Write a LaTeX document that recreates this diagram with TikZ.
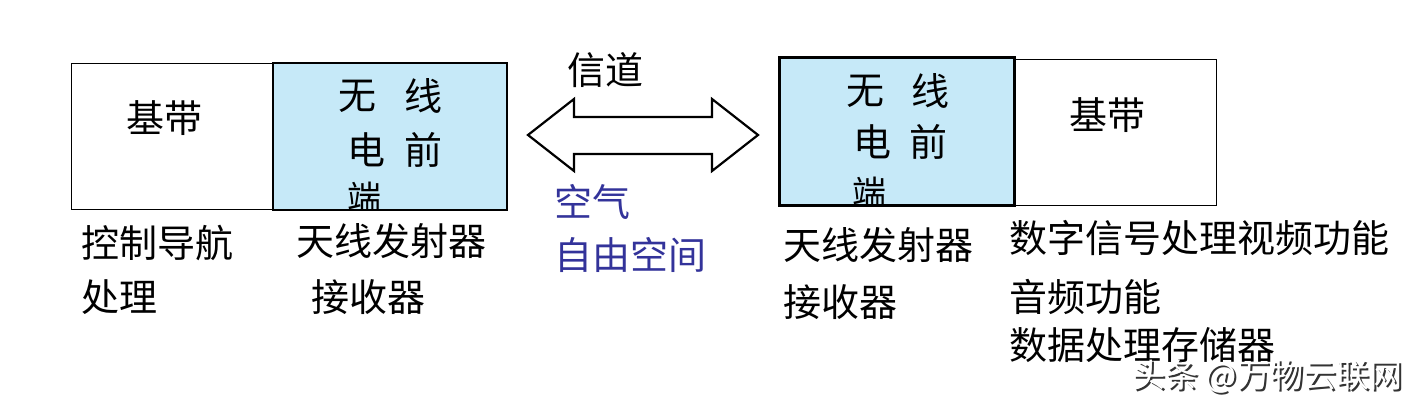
\documentclass[tikz,border=0pt]{standalone}
\usepackage{fontspec}
\setmainfont{Noto Sans CJK SC}
\definecolor{rfblue}{HTML}{C6E9F8}
\definecolor{airblue}{HTML}{33339A}
\tikzset{
  box/.style={draw=black, line width=0.6pt, inner sep=0pt, anchor=north west},
  rfbox/.style={box, fill=rfblue},
  txt/.style={inner sep=0pt, font=\fontsize{19pt}{22pt}\selectfont},
  ltxt/.style={txt, anchor=west},
  airtxt/.style={ltxt, text=airblue},
  small/.style={inner sep=0pt, font=\fontsize{17pt}{20pt}\selectfont},
  wmtxt/.style={inner sep=0pt, anchor=west, font=\fontsize{16.5pt}{20pt}\selectfont}
}
\begin{document}
\begin{tikzpicture}[x=0.5pt,y=-0.5pt]
\useasboundingbox (0,0) rectangle (1416,405);
% left side boxes
\node[box, minimum width=101pt, minimum height=73pt] (lbase) at (71,63) {};
\node[rfbox, minimum width=116.5pt, minimum height=73pt] (lrf) at (273,63) {};
\node[txt] (lbaset) at (164,118) {基带};
\node[txt] (lw1) at (357,96) {无};
\node[txt] (lw2) at (423,96) {线};
\node[txt] (lw3) at (366,150) {电};
\node[txt] (lw4) at (423,150) {前};
\begin{scope}
\clip (lrf.north west) rectangle (lrf.south east);
\node[small] (lw5) at (364,198) {端};
\end{scope}
\draw[line width=0.6pt] (lrf.north west) rectangle (lrf.south east);
% right side boxes
\node[box, minimum width=102pt, minimum height=73pt] (rbase) at (1012,59) {};
\node[rfbox, line width=1.1pt, minimum width=117pt, minimum height=73.5pt] (rrf) at (779,57) {};
\node[txt] (rbaset) at (1107,115) {基带};
\node[txt] (rw1) at (865,91) {无};
\node[txt] (rw2) at (930,91) {线};
\node[txt] (rw3) at (872,142) {电};
\node[txt] (rw4) at (928,142) {前};
\begin{scope}
\clip (rrf.north west) rectangle (rrf.south east);
\node[small] (rw5) at (869,193) {端};
\end{scope}
\draw[line width=1.1pt] (rrf.north west) rectangle (rrf.south east);
% channel double arrow
\coordinate (tipL) at (528,135);
\coordinate (tipR) at (758,135);
\draw[line width=1.1pt, line join=miter]
  (tipL) -- (574,99) -- (574,117) -- (712,117) -- (712,99) -- (tipR)
  -- (712,171) -- (712,154) -- (574,154) -- (574,171) -- cycle;
\node[txt] (chan) at (605,70) {信道};
\node[airtxt] (air1) at (554,202) {空气};
\node[airtxt] (air2) at (554,255) {自由空间};
% captions left
\node[ltxt] (lc1) at (81,243) {控制导航};
\node[ltxt] (lc2) at (81,297) {处理};
\node[ltxt] (lc3) at (296,241) {天线发射器};
\node[ltxt] (lc4) at (311,297) {接收器};
% captions right
\node[ltxt] (rc1) at (783,245) {天线发射器};
\node[ltxt] (rc2) at (783,302) {接收器};
\node[ltxt] (rc3) at (1009,238) {数字信号处理视频功能};
\node[ltxt] (rc4) at (1009,297) {音频功能};
\node[ltxt] (rc5) at (1009,345) {数据处理存储器};
% watermark
\node[wmtxt, text=black!80] (wm0) at (1134,378) {头条 @万物云联网};
\node[wmtxt, text=white] (wm) at (1132,376) {头条 @万物云联网};
\end{tikzpicture}
\end{document}
